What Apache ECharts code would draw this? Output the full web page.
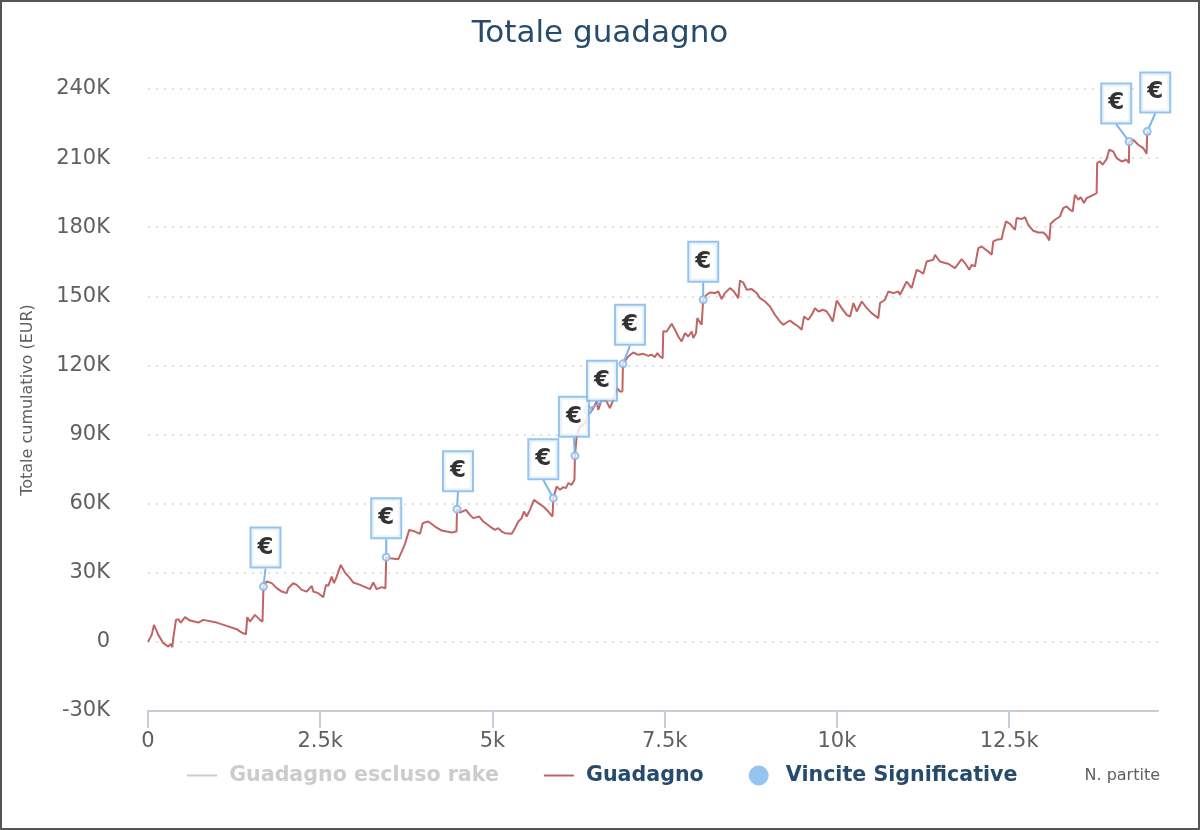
<!DOCTYPE html>
<html>
<head>
<meta charset="utf-8">
<script src="https://cdn.jsdelivr.net/npm/echarts@6/dist/echarts.min.js"></script>
<style>
  html, body { margin: 0; padding: 0; background: #fff; }
  #frame { width: 1200px; height: 830px; box-sizing: border-box; border: 2px solid #555; }
  #chart { width: 1196px; height: 826px; }
</style>
</head>
<body>
<div id="frame"><div id="chart"></div></div>
<script>
// numero di partite (asse x)
const games = [
  0, 54, 87, 150, 222, 295, 329, 353, 367, 406,
  440, 475, 537, 610, 730, 803, 997, 1142, 1287, 1360,
  1422, 1441, 1480, 1553, 1626, 1662, 1676, 1723, 1796, 1868,
  1941, 2013, 2036, 2109, 2158, 2231, 2303, 2376, 2399, 2472,
  2544, 2583, 2617, 2666, 2700, 2739, 2797, 2859, 2932, 2980,
  3077, 3222, 3270, 3319, 3392, 3446, 3458, 3512, 3633, 3682,
  3730, 3755, 3792, 3875, 3948, 3987, 4068, 4166, 4263, 4335,
  4408, 4478, 4485, 4528, 4615, 4673, 4721, 4809, 4867, 4964,
  5036, 5084, 5134, 5182, 5279, 5327, 5375, 5424, 5457, 5497,
  5544, 5602, 5665, 5738, 5810, 5871, 5883, 5932, 5980, 6028,
  6067, 6100, 6149, 6190, 6197, 6222, 6270, 6318, 6367, 6386,
  6415, 6463, 6512, 6535, 6585, 6657, 6705, 6753, 6810, 6850,
  6886, 6894, 6971, 7044, 7116, 7189, 7262, 7311, 7359, 7392,
  7431, 7470, 7479, 7528, 7601, 7649, 7697, 7746, 7794, 7842,
  7891, 7915, 7954, 7973, 8036, 8050, 8059, 8108, 8157, 8229,
  8277, 8326, 8374, 8447, 8505, 8568, 8592, 8640, 8690, 8762,
  8835, 8883, 8956, 9028, 9100, 9173, 9221, 9270, 9318, 9366,
  9439, 9488, 9522, 9584, 9634, 9682, 9730, 9802, 9852, 9900,
  9939, 9997, 10069, 10142, 10191, 10239, 10288, 10360, 10433, 10504,
  10600, 10625, 10697, 10745, 10818, 10890, 10915, 11012, 11085, 11157,
  11205, 11253, 11302, 11398, 11423, 11495, 11568, 11616, 11713, 11810,
  11858, 11921, 11956, 12003, 12051, 12101, 12148, 12196, 12246, 12269,
  12318, 12391, 12414, 12453, 12511, 12550, 12584, 12608, 12681, 12729,
  12777, 12850, 12922, 12995, 13044, 13082, 13102, 13164, 13237, 13285,
  13334, 13382, 13421, 13454, 13502, 13537, 13585, 13624, 13696, 13769,
  13777, 13817, 13856, 13914, 13952, 14010, 14059, 14132, 14204, 14238,
  14242, 14300, 14373, 14446, 14495, 14504, 14543
]
// totale cumulativo in EUR
const totals = [
  0, 3040, 7380, 3040, -560, -2040, -870, -2300, 1610, 9550,
  9860, 8380, 10720, 9250, 8380, 9550, 8380, 6950, 5510, 4040,
  3340, 10720, 8810, 11720, 9550, 8810, 24010, 26180, 25490, 23320,
  21840, 21150, 23320, 25490, 24750, 22580, 21840, 24320, 21840, 21150,
  19410, 24750, 24320, 28350, 25490, 28350, 33430, 30090, 27660, 25750,
  24750, 22880, 25750, 22880, 23750, 23320, 36780, 36340, 35910, 39210,
  42550, 42860, 48630, 47890, 46890, 51540, 52230, 50060, 48330, 47890,
  47460, 47890, 57620, 56140, 57310, 55140, 53710, 54410, 52230, 50060,
  48630, 49370, 47890, 47200, 46890, 49370, 52230, 53710, 56580, 54410,
  57310, 61660, 60230, 58750, 56580, 54410, 62400, 67430, 66000, 67170,
  66740, 68910, 68170, 70340, 80760, 89140, 93480, 94220, 96390, 100730,
  99300, 101470, 104340, 100730, 105080, 104340, 101470, 105080, 110160, 108690,
  108690, 120710, 123880, 125620, 124620, 125050, 124180, 124620, 123620, 125350,
  123880, 123180, 134790, 134730, 138080, 135470, 132560, 130390, 134040, 132560,
  134730, 131870, 134040, 140550, 137640, 137640, 148500, 150670, 151670, 151410,
  152100, 148800, 151410, 153580, 152100, 149240, 156880, 156010, 152840, 153140,
  151410, 149240, 147760, 145590, 141990, 139080, 137640, 138640, 139510, 138380,
  136900, 135470, 141250, 139810, 141990, 144900, 143420, 144160, 143420, 141250,
  139080, 148200, 144900, 141990, 141250, 147070, 143420, 147760, 144900, 142720,
  140550, 147070, 148500, 152100, 151410, 152100, 150670, 156440, 153580, 161520,
  160790, 159790, 165130, 165860, 168030, 165130, 164440, 164130, 162270, 166170,
  164440, 161520, 163690, 162960, 170940, 171640, 170510, 169470, 168030, 173810,
  174550, 174850, 178160, 182500, 181500, 180060, 178890, 183970, 183540, 184410,
  181060, 178460, 177720, 177720, 176290, 174240, 181500, 183230, 184670, 188320,
  189010, 187580, 186840, 194090, 191920, 193090, 190490, 192660, 193650, 194830,
  207850, 208550, 207110, 209590, 213630, 212890, 210020, 208550, 209290, 207850,
  217230, 217970, 215800, 214360, 211890, 221570, 220140
]
// vincite significative
const winGames = [1676, 3458, 4485, 5883, 6197, 6386, 6894, 8059, 14242, 14504]
const winTotals = [24010, 36780, 57620, 62400, 80760, 100730, 120710, 148500, 217230, 221570]

const xTickValues = [0, 2500, 5000, 7500, 10000, 12500]
const xTickLabels = ['0', '2.5k', '5k', '7.5k', '10k', '12.5k']

const FONT = 'DejaVu Sans'
const LINE_ICON = 'path://M0,0H30V2H0Z'
const chart = echarts.init(document.getElementById('chart'))

// spostamento delle etichette rispetto al punto
const shiftX = [2, 0, 1, -10, -1, 14, 7, 0, -13, 8]
const shiftY = [-39, -39, -38, -39, -39, -29, -39, -38, -38, -39]

chart.setOption({
  animation: false,
  title: {
    text: 'Totale guadagno',
    left: 'center',
    top: 11,
    textStyle: { fontFamily: FONT, fontSize: 31, fontWeight: 'normal', color: '#274b6d' },
  },
  legend: {
    left: 180,
    top: 758,
    itemWidth: 30,
    itemHeight: 20,
    itemGap: 45,
    symbolKeepAspect: true,
    inactiveColor: '#cccccc',
    formatter: (name) => ' ' + name,
    textStyle: { fontFamily: FONT, fontSize: 20.6, fontWeight: 'bold', color: '#274b6d' },
    selected: { 'Guadagno escluso rake': false },
    data: [
      { name: 'Guadagno escluso rake', icon: LINE_ICON },
      { name: 'Guadagno', icon: LINE_ICON },
      { name: 'Vincite Significative', icon: 'circle', itemStyle: { color: '#7cb5ec', borderWidth: 0 } },
    ],
  },
  grid: { left: 146, right: 40, top: 87, bottom: 117 },
  xAxis: {
    type: 'value',
    min: 0,
    max: 14660,
    name: 'N. partite',
    nameLocation: 'end',
    nameGap: 2,
    nameTextStyle: { fontFamily: FONT, fontSize: 16, color: '#606060', align: 'right', verticalAlign: 'top', padding: [57, 0, 0, 0] },
    axisLine: { onZero: false, lineStyle: { color: '#cccccc', width: 2 } },
    axisTick: { customValues: xTickValues, length: 17, lineStyle: { color: '#c0d0e0', width: 2 } },
    axisLabel: {
      customValues: xTickValues,
      formatter: (v) => xTickLabels[xTickValues.indexOf(v)] || '',
      fontFamily: FONT,
      fontSize: 21,
      color: '#606060',
      margin: 20,
    },
    splitLine: { show: false },
  },
  yAxis: {
    type: 'value',
    min: -30000,
    max: 240000,
    interval: 30000,
    name: 'Totale cumulativo (EUR)',
    nameLocation: 'middle',
    nameGap: 112,
    nameTextStyle: { fontFamily: FONT, fontSize: 16, color: '#606060' },
    axisLine: { show: false },
    axisTick: { show: false },
    axisLabel: {
      formatter: (v) => (v === 0 ? '0' : v / 1000 + 'K'),
      fontFamily: FONT,
      fontSize: 21,
      color: '#606060',
      margin: 38,
    },
    splitLine: { lineStyle: { type: [2, 6], color: '#e0e0e0', width: 2 } },
  },
  series: [
    {
      name: 'Guadagno escluso rake',
      type: 'line',
      symbol: 'none',
      data: [],
      itemStyle: { color: '#aaaaaa' },
      lineStyle: { color: '#aaaaaa', width: 2 },
    },
    {
      name: 'Guadagno',
      type: 'line',
      symbol: 'none',
      z: 2,
      data: games.map((g, i) => [g, totals[i]]),
      itemStyle: { color: '#c06464' },
      lineStyle: { color: '#c06464', width: 2 },
    },
    {
      name: 'Vincite Significative',
      type: 'scatter',
      z: 3,
      symbol: 'circle',
      symbolSize: 7,
      data: winGames.map((g, i) => [g, winTotals[i]]),
      itemStyle: { color: '#e8f1fb', borderColor: '#7cb5ec', borderWidth: 2 },
      label: {
        show: true,
        position: 'inside',
        formatter: '€',
        fontFamily: FONT,
        fontWeight: 'bold',
        fontSize: 23,
        lineHeight: 22,
        color: '#000',
        backgroundColor: '#fff',
        borderColor: '#7cb5ec',
        borderWidth: 2,
        padding: [8, 6],
      },
      labelLine: { show: true, lineStyle: { color: '#7cb5ec', width: 2 } },
      labelLayout: (p) => ({ dx: shiftX[p.dataIndex], dy: shiftY[p.dataIndex] }),
    },
  ],
})
</script>
</body>
</html>
